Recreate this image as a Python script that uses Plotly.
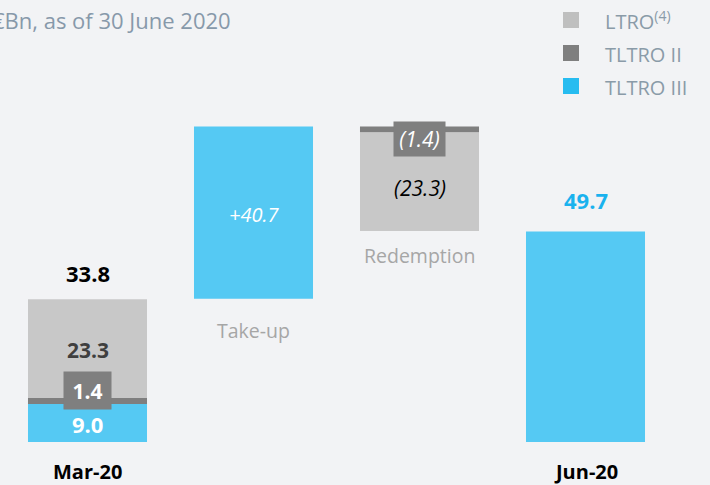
import plotly.graph_objects as go

# Waterfall of ECB funding, EUR bn
steps = ["Mar-20", "Take-up", "Redemption", "Jun-20"]
ltro = [23.3, 0.0, 23.3, 0.0]
tltro2 = [1.4, 0.0, 1.4, 0.0]
tltro3 = [9.0, 40.7, 0.0, 49.7]
total_mar = 33.8
total_jun = 49.7

BLUE = "#55C9F3"
LIGHT = "#C8C8C8"
DARK = "#7F7F7F"
BG = "#F2F3F5"
FONT = "Open Sans"

# Floating bases for each segment
take_top = total_mar + tltro3[1]
red_ii_base = take_top - tltro2[2]
red_l_base = red_ii_base - ltro[2]

w = 0.717

fig = go.Figure()
fig.add_bar(x=[0, 1, 3], y=[tltro3[0], tltro3[1], tltro3[3]],
            base=[0, total_mar, 0],
            marker=dict(color=BLUE, line_width=0), width=w, name="TLTRO III")
fig.add_bar(x=[0, 2], y=[tltro2[0], tltro2[2]], base=[tltro3[0], red_ii_base],
            marker=dict(color=DARK, line_width=0), width=w, name="TLTRO II")
fig.add_bar(x=[0, 2], y=[ltro[0], ltro[2]],
            base=[tltro3[0] + tltro2[0], red_l_base],
            marker=dict(color=LIGHT, line_width=0), width=w, name="LTRO")

ann = []


def label(xv, yv, text, color, size=18, bold=True, italic=False, yshift=0,
          bg=None, width=None, height=None):
    d = dict(x=xv, y=yv, xref="x", yref="y", text=text, showarrow=False,
             yanchor="middle", yshift=yshift,
             font=dict(family=FONT, size=size, color=color,
                       weight="bold" if bold else "normal",
                       style="italic" if italic else "normal"))
    if bg:
        d.update(bgcolor=bg, borderpad=0, width=width, height=height)
    ann.append(d)


# Mar-20 stack
label(0, total_mar, f"{total_mar:.1f}", "#000000", size=22, yshift=26)
label(0, tltro3[0] + tltro2[0] + ltro[0] / 2, f"{ltro[0]:.1f}", "#3F3F3F",
      size=21, yshift=-1)
label(0, tltro3[0] + tltro2[0], f"{tltro2[0]:.1f}", "#FFFFFF", size=21,
      yshift=7.5, bg=DARK, width=47, height=37)
label(0, tltro3[0] / 2, f"{tltro3[0]:.1f}", "#FFFFFF", size=22, yshift=-1)

# Take-up
label(1, total_mar + tltro3[1] / 2, f"+{tltro3[1]:.1f}", "#FFFFFF", size=20,
      bold=False, italic=True, yshift=-2)
label(1, total_mar, "Take-up", "#A6A6A6", size=19.5, bold=False, yshift=-32)

# Redemption
label(2, take_top, f"({tltro2[2]:.1f})", "#FFFFFF", size=21, bold=False,
      italic=True, yshift=-13, bg=DARK, width=51, height=34)
label(2, red_l_base + ltro[2] / 2, f"({ltro[2]:.1f})", "#000000", size=21,
      bold=False, italic=True, yshift=-6)
label(2, red_l_base, "Redemption", "#A6A6A6", size=19.5, bold=False, yshift=-24)

# Jun-20
label(3, total_jun, f"{total_jun:.1f}", "#1AB2EE", size=22, yshift=32)

# Category labels
for i in (0, 3):
    label(i, 0, steps[i], "#000000", size=20, yshift=-29)

# Title (runs off the left edge of the page)
ann.append(dict(x=233 / 710, y=1 - 20 / 485, xref="paper", yref="paper",
                xanchor="right", yanchor="middle", showarrow=False,
                text="€Bn, as of 30 June 2020",
                font=dict(family=FONT, size=22, color="#8799AA")))

# Legend
legend_items = [("LTRO<sup>(4)</sup>", "#BFBFBF"), ("TLTRO II", "#7F7F7F"),
                ("TLTRO III", "#27BCF0")]
shapes = []
for k, (txt, col) in enumerate(legend_items):
    yc = 20 + 33 * k
    shapes.append(dict(type="rect", xref="paper", yref="paper",
                       x0=563 / 710, x1=579 / 710,
                       y0=1 - (yc + 8) / 485, y1=1 - (yc - 8) / 485,
                       fillcolor=col, line=dict(width=0)))
    ann.append(dict(x=603 / 710, y=1 - (yc + 1) / 485, xref="paper", yref="paper",
                    xanchor="left", yanchor="middle", showarrow=False, text=txt,
                    font=dict(family=FONT, size=20, color="#8A9BA8")))

fig.update_layout(
    width=710, height=485, margin=dict(l=0, r=0, t=0, b=0),
    paper_bgcolor=BG, plot_bgcolor=BG, showlegend=False, barmode="overlay",
    xaxis=dict(range=[-87.5 / 166, (710 - 87.5) / 166], visible=False),
    yaxis=dict(range=[-43 / 4.235, 442 / 4.235], visible=False),
    annotations=ann, shapes=shapes,
)

fig.write_html("out.html")
